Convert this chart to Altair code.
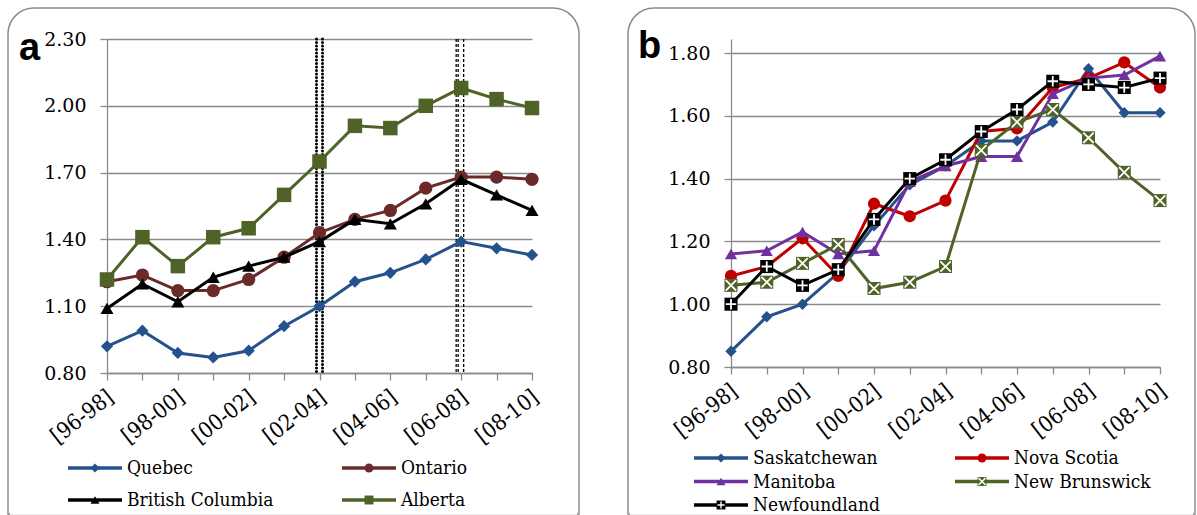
import json
import altair as alt
import pandas as pd

# ---- shared categories -------------------------------------------------
periods = ["[96-98]", "[97-99]", "[98-00]", "[99-01]", "[00-02]", "[01-03]",
           "[02-04]", "[03-05]", "[04-06]", "[05-07]", "[06-08]", "[07-09]", "[08-10]"]
shown_labels = ["[96-98]", "[98-00]", "[00-02]", "[02-04]", "[04-06]", "[06-08]", "[08-10]"]

# ---- panel a -----------------------------------------------------------
provinces_a = ["Quebec", "Ontario", "British Columbia", "Alberta"]
quebec = [0.92, 0.99, 0.89, 0.87, 0.90, 1.01, 1.10, 1.21, 1.25, 1.31, 1.39, 1.36, 1.33]
ontario = [1.21, 1.24, 1.17, 1.17, 1.22, 1.32, 1.43, 1.49, 1.53, 1.63, 1.68, 1.68, 1.67]
british_columbia = [1.09, 1.20, 1.12, 1.23, 1.28, 1.32, 1.39, 1.49, 1.47, 1.56, 1.67, 1.60, 1.53]
alberta = [1.22, 1.41, 1.28, 1.41, 1.45, 1.60, 1.75, 1.91, 1.90, 2.00, 2.08, 2.03, 1.99]
yticks_a = [0.80, 1.10, 1.40, 1.70, 2.00, 2.30]
dotted_events = ["[02-04]"]
dashed_events = ["[06-08]"]

# ---- panel b -----------------------------------------------------------
provinces_b = ["Saskatchewan", "Nova Scotia", "Manitoba", "New Brunswick", "Newfoundland"]
saskatchewan = [0.85, 0.96, 1.00, 1.10, 1.25, 1.38, 1.44, 1.52, 1.52, 1.58, 1.75, 1.61, 1.61]
nova_scotia = [1.09, 1.12, 1.21, 1.09, 1.32, 1.28, 1.33, 1.55, 1.56, 1.69, 1.72, 1.77, 1.69]
manitoba = [1.16, 1.17, 1.23, 1.16, 1.17, 1.39, 1.44, 1.47, 1.47, 1.67, 1.72, 1.73, 1.79]
new_brunswick = [1.06, 1.07, 1.13, 1.19, 1.05, 1.07, 1.12, 1.49, 1.58, 1.62, 1.53, 1.42, 1.33]
newfoundland = [1.00, 1.12, 1.06, 1.11, 1.27, 1.40, 1.46, 1.55, 1.62, 1.71, 1.70, 1.69, 1.72]
yticks_b = [0.80, 1.00, 1.20, 1.40, 1.60, 1.80]

# ---- styling -----------------------------------------------------------
SERIF = "DejaVu Serif"
NARROW_SERIF = "DejaVu Serif Condensed"
GREY = "#8a8a8a"
PLUS_PATH = "M-0.8,0L0.8,0M0,-0.8L0,0.8"
X_PATH = "M-0.8,-0.8L0.8,0.8M-0.8,0.8L0.8,-0.8"
LINE_PATH = "M-1,0L1,0"

label_expr = "indexof(%s, datum.value) >= 0 ? datum.label : ''" % json.dumps(shown_labels)


def long_table(names, series):
    rows = []
    for name, vals in zip(names, series):
        for p, v in zip(periods, vals):
            rows.append({"period": p, "province": name, "value": v})
    return pd.DataFrame(rows)


def make_panel(letter, names, series, colors, shapes, sizes, legend_sizes, overlays,
               yticks, ydomain, width, height, frame_box, letter_xy,
               legend_cols, legend_rows, event_rules):
    df = long_table(names, series)
    one = pd.DataFrame({"panel": [letter]})

    color = alt.Color("province:N", scale=alt.Scale(domain=names, range=colors), legend=None)
    shape = alt.Shape("province:N", scale=alt.Scale(domain=names, range=shapes), legend=None)
    x = alt.X("period:N", sort=periods,
              scale=alt.Scale(type="point", domain=periods, padding=0),
              axis=alt.Axis(title=None, labelExpr=label_expr, labelAngle=-38,
                            labelAlign="right", labelBaseline="top", labelPadding=6,
                            labelOffset=-3,
                            labelFont=NARROW_SERIF, labelFontSize=22, labelColor="black",
                            labelOverlap=False, tickColor=GREY, tickSize=7, tickWidth=1.3,
                            domainColor=GREY, domainWidth=1.3, grid=False))
    y = alt.Y("value:Q", scale=alt.Scale(domain=ydomain, nice=False, zero=False),
              axis=alt.Axis(title=None, values=yticks, format=".2f",
                            labelFont=SERIF, labelFontSize=19, labelColor="black",
                            labelPadding=14, tickColor=GREY, tickSize=7, tickWidth=1.3,
                            domainColor=GREY, domainWidth=1.3, grid=True,
                            gridColor=GREY, gridWidth=1.3))

    fx, fx2, fy, fy2 = frame_box
    frame = alt.Chart(one).mark_rect(
        filled=False, stroke="#8c8c8c", strokeWidth=1.5,
        cornerRadiusTopLeft=26, cornerRadiusTopRight=26
    ).encode(x=alt.value(fx), x2=alt.value(fx2), y=alt.value(fy), y2=alt.value(fy2))
    cover = alt.Chart(one).mark_rule(color="white", strokeWidth=2.6).encode(
        x=alt.value(fx + 2), x2=alt.value(fx2 - 2), y=alt.value(fy2 - 0.5))
    tag = alt.Chart(one).mark_text(
        text=letter, font="Liberation Sans", fontSize=38, fontWeight="bold",
        align="left", baseline="alphabetic", color="black"
    ).encode(x=alt.value(letter_xy[0]), y=alt.value(letter_xy[1]))

    data_layers = []
    for periods_list, style, offsets in event_rules:
        ev = pd.DataFrame({"period": periods_list})
        for off in offsets:
            data_layers.append(
                alt.Chart(ev).mark_rule(color="black", xOffset=off, **style).encode(x=x))

    for i, name in enumerate(names):
        sub = df[df["province"] == name]
        base = alt.Chart(sub).encode(x=x, y=y, color=color)
        data_layers.append(base.mark_line(strokeWidth=3))
        data_layers.append(base.mark_point(filled=True, size=sizes[i], opacity=1).encode(shape=shape))
        if name in overlays:
            data_layers.append(
                alt.Chart(sub).mark_point(shape=overlays[name], size=sizes[i], filled=False,
                                          stroke="white", strokeWidth=1.8, opacity=1)
                .encode(x=x, y=y))

    # legend entries placed on a small grid of their own
    nrows = (len(names) + 1) // 2
    leg = pd.DataFrame({"province": names,
                        "col": [i % 2 for i in range(len(names))],
                        "row": [i // 2 for i in range(len(names))]})
    lx = alt.X("col:Q", scale=alt.Scale(domain=[0, 1], range=legend_cols), axis=None)
    ly = alt.Y("row:Q", scale=alt.Scale(domain=[0, nrows - 1], range=legend_rows, zero=False, nice=False),
               axis=None)
    leg_layers = [
        alt.Chart(leg).mark_point(shape=LINE_PATH, size=54 * 54, strokeWidth=3.5,
                                  filled=False, opacity=1).encode(x=lx, y=ly, color=color),
        alt.Chart(leg).mark_point(filled=True, size=legend_sizes, opacity=1)
        .encode(x=lx, y=ly, color=color, shape=shape),
    ]
    for name, path in overlays.items():
        leg_layers.append(
            alt.Chart(leg[leg["province"] == name]).mark_point(
                shape=path, size=legend_sizes, filled=False, stroke="white",
                strokeWidth=1.4, opacity=1).encode(x=lx, y=ly))
    leg_layers.append(
        alt.Chart(leg).mark_text(align="left", baseline="middle", dx=32, font=NARROW_SERIF,
                                 fontSize=19, color="black").encode(x=lx, y=ly, text="province:N"))

    return alt.layer(
        frame, cover, tag, alt.layer(*data_layers), alt.layer(*leg_layers)
    ).resolve_scale(x="independent", y="independent").properties(width=width, height=height)


panel_a = make_panel(
    "a", provinces_a, [quebec, ontario, british_columbia, alberta],
    ["#24528c", "#6b2a2a", "#000000", "#4f6228"],
    ["diamond", "circle", "triangle-up", "square"],
    [150, 175, 170, 210], 80, {},
    yticks_a, [0.8, 2.3], 425, 334,
    (-99, 472, -31, 475), (-88, 21),
    [-12, 262], [429, 461],
    [
        (dotted_events, dict(strokeWidth=3, strokeDash=[0.1, 3.4], strokeCap="round"), [-3, 3]),
        (dashed_events, dict(strokeWidth=1.3, strokeDash=[3, 2]), [-5, -3, 2.5]),
    ],
)

panel_b = make_panel(
    "b", provinces_b, [saskatchewan, nova_scotia, manitoba, new_brunswick, newfoundland],
    ["#24528c", "#c00000", "#7030a0", "#4f6228", "#000000"],
    ["diamond", "circle", "triangle-up", "square", "square"],
    [130, 150, 150, 170, 170], 80, {"New Brunswick": X_PATH, "Newfoundland": PLUS_PATH},
    yticks_b, [0.8, 0.8 + 328 / 314], 429, 328,
    (-103, 464, -31, 475), (-93, 19),
    [-10, 251], [419, 466],
    [],
)

chart = alt.hconcat(panel_a, panel_b, spacing=199, bounds="flush").resolve_scale(
    x="independent", y="independent", color="independent", shape="independent"
).properties(
    padding={"left": 7, "top": 7, "right": 0, "bottom": 0}, background="white"
).configure_view(stroke=None)

chart.save("out.html", embed_options={"renderer": "svg", "actions": False})
